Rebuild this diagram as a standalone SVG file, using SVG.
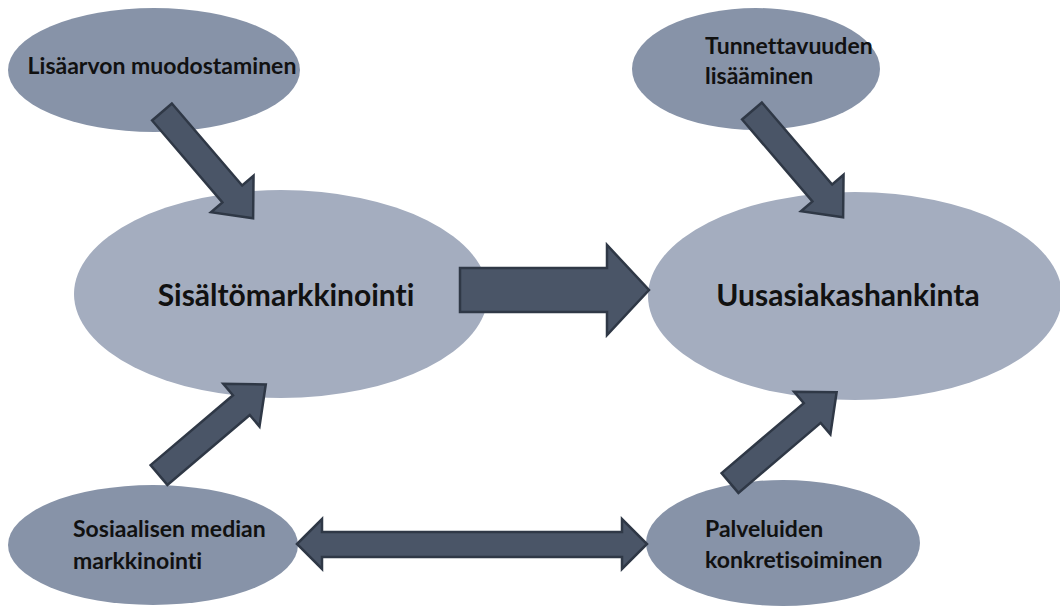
<svg xmlns="http://www.w3.org/2000/svg" width="1060" height="610" viewBox="0 0 1060 610">
  <style>
    .small { fill: #8793a8; }
    .big { fill: #a4adbf; }
    .arrow { fill: #4a5567; stroke: #2f3846; stroke-width: 2.5; stroke-linejoin: miter; }
    .t { font-family: Lato, "Liberation Sans", sans-serif; font-weight: bold; fill: #111111; font-variant-ligatures: none; }
    .ts { font-size: 23px; }
    .tb { font-size: 30px; }
  </style>
  <defs>
    <polygon id="diag" points="0,-13 108,-13 108,-28 140,0 108,28 108,13 0,13"/>
  </defs>
  <rect width="1060" height="610" fill="#ffffff"/>
  <g id="node-lisaarvon">
    <ellipse class="small" cx="154" cy="70" rx="146" ry="62"/>
    <text class="t ts" x="162" y="74" text-anchor="middle">Lisäarvon muodostaminen</text>
  </g>
  <g id="node-tunnettavuus">
    <ellipse class="small" cx="756" cy="69" rx="124" ry="61"/>
    <text class="t ts" x="705" y="54">Tunnettavuuden</text>
    <text class="t ts" x="705" y="84">lisääminen</text>
  </g>
  <g id="node-sisalto">
    <ellipse class="big" cx="281" cy="294" rx="207" ry="104"/>
    <text class="t tb" x="286" y="306" text-anchor="middle">Sisältömarkkinointi</text>
  </g>
  <g id="node-uusasiakas">
    <ellipse class="big" cx="855" cy="296" rx="207" ry="104"/>
    <text class="t tb" x="848" y="306" text-anchor="middle">Uusasiakashankinta</text>
  </g>
  <g id="node-some">
    <ellipse class="small" cx="153" cy="545" rx="145" ry="60"/>
    <text class="t ts" x="73" y="537">Sosiaalisen median</text>
    <text class="t ts" x="73" y="569">markkinointi</text>
  </g>
  <g id="node-palvelut">
    <ellipse class="small" cx="783" cy="543" rx="137" ry="63"/>
    <text class="t ts" x="705" y="537">Palveluiden</text>
    <text class="t ts" x="705" y="568">konkretisoiminen</text>
  </g>
  <g id="connectors">
    <use href="#diag" class="arrow" transform="translate(162,112) rotate(49.4)"/>
    <use href="#diag" class="arrow" transform="translate(752,111) rotate(49.4)"/>
    <use href="#diag" class="arrow" transform="translate(159,475) rotate(-40.3)"/>
    <use href="#diag" class="arrow" transform="translate(730,483) rotate(-40.4)"/>
    <polygon class="arrow" points="460,268 607,268 607,245 649,290 607,335 607,312 460,312"/>
    <polygon class="arrow" points="297,544 322,519 322,532 622,532 622,519 647,544 622,569 622,557 322,557 322,569"/>
  </g>
</svg>
